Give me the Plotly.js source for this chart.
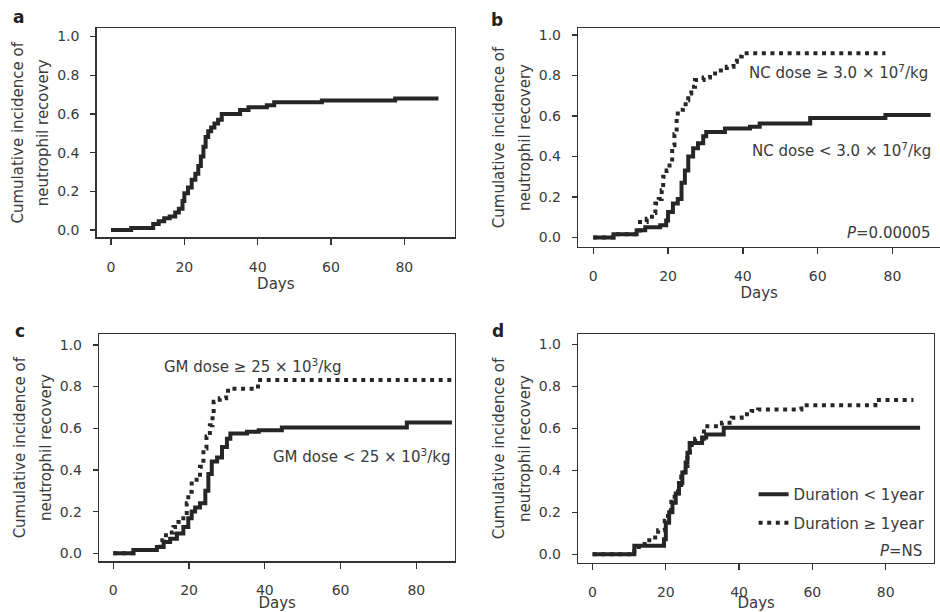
<!DOCTYPE html>
<html>
<head>
<meta charset="utf-8">
<script src="https://cdn.plot.ly/plotly-3.0.1.min.js"></script>
<style>html,body{margin:0;padding:0;background:#fff;}#chart{width:940px;height:612px;}</style>
</head>
<body>
<div id="chart"></div>
<script>
// ---- Data ----
// Panel a: all patients
var aDays = [0, 5.5, 11.5, 13, 14.5, 16, 17.5, 18.5, 19.5, 20, 21, 22, 23, 23.8, 24.5, 25.2, 25.8, 26.5, 27.3, 28.2, 29.2, 30.2, 35.2, 37.5, 42.5, 44.5, 57.5, 77.5, 89.3];
var aInc  = [0, 0.01, 0.03, 0.045, 0.06, 0.07, 0.09, 0.11, 0.15, 0.19, 0.22, 0.26, 0.29, 0.33, 0.38, 0.43, 0.48, 0.51, 0.53, 0.55, 0.57, 0.60, 0.62, 0.635, 0.645, 0.66, 0.67, 0.68, 0.68];

// Panel b: NC dose
var bLowDays = [0, 5.4, 11.6, 13.9, 17.9, 19.5, 20, 21.3, 22.6, 23.6, 24.5, 25.4, 26.7, 28, 29.4, 30.2, 35.2, 41.9, 44.5, 58, 78.1, 90.2];
var bLowInc  = [0, 0.015, 0.035, 0.05, 0.06, 0.084, 0.125, 0.167, 0.19, 0.27, 0.33, 0.40, 0.44, 0.465, 0.50, 0.52, 0.538, 0.546, 0.563, 0.59, 0.605, 0.605];
var bHighDays = [0, 5.4, 12.5, 14.3, 15.7, 16.6, 17.5, 18.3, 18.7, 19.6, 20.4, 21.1, 21.7, 22.3, 22.6, 24, 24.7, 25.4, 26.2, 27.2, 29.5, 31.2, 33.5, 35.7, 37.5, 38.4, 39.7, 78.1];
var bHighInc  = [0, 0.015, 0.076, 0.092, 0.12, 0.167, 0.19, 0.233, 0.30, 0.33, 0.373, 0.455, 0.51, 0.587, 0.63, 0.645, 0.678, 0.711, 0.744, 0.777, 0.79, 0.81, 0.824, 0.843, 0.868, 0.893, 0.909, 0.909];

// Panel c: GM dose
var cLowDays = [0, 5.3, 11.5, 13.3, 15, 16.8, 18.5, 19.8, 20.7, 21.6, 22.9, 24.3, 25.1, 26, 27.4, 28.7, 30, 30.9, 35.3, 38.4, 44.5, 77.5, 89.4];
var cLowInc  = [0, 0.016, 0.03, 0.054, 0.07, 0.095, 0.126, 0.168, 0.2, 0.22, 0.24, 0.30, 0.38, 0.44, 0.46, 0.51, 0.55, 0.575, 0.583, 0.59, 0.604, 0.628, 0.628];
var cHighDays = [0, 5.3, 12.4, 13.3, 14.6, 15.9, 17.2, 18.5, 19.4, 19.8, 20.7, 22, 22.9, 23.8, 24.6, 25.5, 26.2, 26.5, 28.1, 29.8, 30.3, 38.2, 89.4];
var cHighInc  = [0, 0.016, 0.063, 0.087, 0.1, 0.126, 0.15, 0.18, 0.24, 0.295, 0.335, 0.367, 0.415, 0.503, 0.56, 0.615, 0.663, 0.727, 0.744, 0.76, 0.79, 0.832, 0.832];

// Panel d: disease duration
var dShortDays = [0, 11.4, 19.5, 20, 20.9, 21.8, 22.7, 23.6, 24.5, 25.4, 25.9, 26.5, 29.9, 31, 35.8, 89.4];
var dShortInc  = [0, 0.04, 0.071, 0.15, 0.2, 0.246, 0.29, 0.34, 0.39, 0.437, 0.484, 0.53, 0.556, 0.571, 0.603, 0.603];
var dLongDays = [0, 11.4, 14.2, 16.1, 17.9, 19.7, 20.6, 21.5, 22.4, 23.3, 24.2, 25.1, 25.9, 26.6, 28, 30.4, 35.3, 38, 40.7, 43.4, 45.2, 57, 77.2, 87.6];
var dLongInc  = [0, 0.035, 0.067, 0.08, 0.114, 0.16, 0.21, 0.25, 0.29, 0.33, 0.37, 0.42, 0.47, 0.52, 0.55, 0.61, 0.627, 0.65, 0.667, 0.683, 0.69, 0.71, 0.735, 0.735];

var yTicks = [0, 0.2, 0.4, 0.6, 0.8, 1.0];
var yTickText = ['0.0', '0.2', '0.4', '0.6', '0.8', '1.0'];
var xTicks = [0, 20, 40, 60, 80];
var xTitle = 'Days';
var yTitleLines = ['Cumulative incidence of', 'neutrophil recovery'];
var labelsB = ['NC dose \u2265 3.0 \u00d7 10<sup>7</sup>/kg', 'NC dose < 3.0 \u00d7 10<sup>7</sup>/kg', '<i>P</i>=0.00005'];
var labelsC = ['GM dose \u2265 25 \u00d7 10<sup>3</sup>/kg', 'GM dose < 25 \u00d7 10<sup>3</sup>/kg', '<i>P</i>=0.025'];
var legendD = ['Duration < 1year', 'Duration \u2265 1year'];
var pD = '<i>P</i>=NS';
var panelLetters = ['a', 'b', 'c', 'd'];

// ---- Styling ----
var LINE = '#262626';
var TXT = '#3a3a3a';
var FONT = 'DejaVu Sans, Verdana, sans-serif';
var DOT = '4px,4.6px';

var yTitle = '<span style="font-size:15px">' + yTitleLines[0] + '</span><br><span style="font-size:15px">' + yTitleLines[1] + '</span>';

function solid(x, y, xa, ya, name, show) {
  return {x: x, y: y, xaxis: xa, yaxis: ya, type: 'scatter', mode: 'lines', name: name || '',
    showlegend: !!show, legendgroup: name || xa + 's',
    line: {shape: 'hv', color: LINE, width: 4}, hoverinfo: 'skip'};
}
function dotted(x, y, xa, ya, name, show) {
  return {x: x, y: y, xaxis: xa, yaxis: ya, type: 'scatter', mode: 'lines', name: name || '',
    showlegend: !!show, legendgroup: name || xa + 'd',
    line: {shape: 'hv', color: LINE, width: 4, dash: DOT}, hoverinfo: 'skip'};
}

var traces = [
  solid(aDays, aInc, 'x', 'y'),
  dotted(bHighDays, bHighInc, 'x2', 'y2'),
  solid(bLowDays, bLowInc, 'x2', 'y2'),
  dotted(cHighDays, cHighInc, 'x3', 'y3'),
  solid(cLowDays, cLowInc, 'x3', 'y3'),
  solid(dShortDays, dShortInc, 'x4', 'y4', legendD[0], true),
  dotted(dLongDays, dLongInc, 'x4', 'y4', legendD[1], true)
];

function xax(domain, range, anchor) {
  return {domain: domain, range: range, anchor: anchor, tickvals: xTicks, ticks: 'outside', ticklen: 6,
    tickwidth: 1.3, tickcolor: '#333', showline: true, linecolor: '#333', linewidth: 1.5, mirror: true,
    showgrid: false, zeroline: false, ticklabelstandoff: 10,
    tickfont: {family: FONT, size: 14, color: TXT},
    title: {text: xTitle, font: {family: FONT, size: 15, color: TXT}, standoff: 0}};
}
function yax(domain, range, anchor) {
  return {domain: domain, range: range, anchor: anchor, tickvals: yTicks, ticktext: yTickText,
    ticks: 'outside', ticklen: 5, tickwidth: 1.3, tickcolor: '#333', showline: true, linecolor: '#333',
    linewidth: 1.5, mirror: true, showgrid: false, zeroline: false, ticklabelstandoff: 8,
    tickfont: {family: FONT, size: 14, color: TXT},
    title: {text: yTitle, font: {family: FONT, size: 19.5, color: TXT}, standoff: 3}};
}

var ann = [];
function txt(text, xref, yref, x, y, xanchor, size, bold) {
  ann.push({text: bold ? '<b>' + text + '</b>' : text, xref: xref, yref: yref, x: x, y: y,
    xanchor: xanchor, yanchor: 'middle', showarrow: false,
    font: {family: FONT, size: size || 15, color: bold ? '#222' : TXT}});
}
txt(labelsB[0], 'x2', 'y2', 90.0, 0.817, 'right');
txt(labelsB[1], 'x2', 'y2', 90.8, 0.43, 'right');
txt(labelsB[2], 'x2', 'y2', 90.8, 0.02, 'right');
txt(labelsC[0], 'x3', 'y3', 36.7, 0.90, 'center');
txt(labelsC[1], 'x3', 'y3', 89.4, 0.467, 'right');
txt(labelsC[2], 'x3', 'y3', 90.7, 0.035, 'right');
txt(pD, 'x4', 'y4', 90.4, 0.016, 'right');
txt(panelLetters[0], 'paper', 'paper', 18 / 940, 1 - 17 / 612, 'center', 17, true);
txt(panelLetters[1], 'paper', 'paper', 497 / 940, 1 - 20 / 612, 'center', 17, true);
txt(panelLetters[2], 'paper', 'paper', 20 / 940, 1 - 331 / 612, 'center', 17, true);
txt(panelLetters[3], 'paper', 'paper', 498 / 940, 1 - 331 / 612, 'center', 17, true);

var layout = {
  width: 940, height: 612,
  margin: {l: 0, r: 0, t: 0, b: 0},
  paper_bgcolor: '#ffffff', plot_bgcolor: '#ffffff',
  showlegend: true,
  legend: {x: 0.99, xanchor: 'right', y: 1 - 478 / 612, yanchor: 'top', bgcolor: 'rgba(0,0,0,0)',
    font: {family: FONT, size: 15, color: TXT}, traceorder: 'grouped', tracegroupgap: 6},
  xaxis:  xax([0.1029, 0.4840], [-3.9, 93.8], 'y'),
  yaxis:  yax([0.6123, 0.9538], [-0.038, 1.043], 'x'),
  xaxis2: xax([0.6152, 1.0], [-4.0, 92.7], 'y2'),
  yaxis2: yax([0.5969, 0.9538], [-0.046, 1.033], 'x2'),
  xaxis3: xax([0.1056, 0.4840], [-3.7, 90.2], 'y3'),
  yaxis3: yax([0.0833, 0.4538], [-0.037, 1.051], 'x3'),
  xaxis4: xax([0.6152, 0.9936], [-3.9, 93.2], 'y4'),
  yaxis4: yax([0.0806, 0.4538], [-0.04, 1.048], 'x4'),
  annotations: ann
};

Plotly.newPlot('chart', traces, layout, {displayModeBar: false, staticPlot: true});
</script>
</body>
</html>
